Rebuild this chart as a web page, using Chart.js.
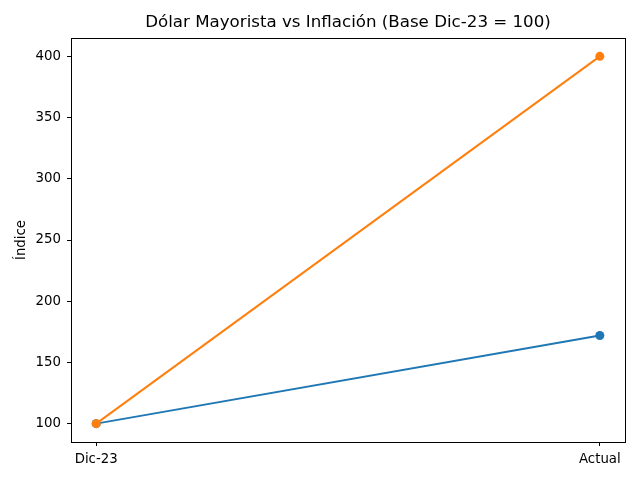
<!DOCTYPE html>
<html>
<head>
<meta charset="utf-8">
<script src="https://cdn.jsdelivr.net/npm/chart.js@4"></script>
<style>
  html, body { margin: 0; padding: 0; background: #fff; }
  #wrap { width: 640px; height: 480px; }
</style>
</head>
<body>
<div id="wrap"><canvas id="chart" width="640" height="480"></canvas></div>
<script>
// Dólar mayorista vs inflación, both indexed to Dic-23 = 100
const categories = ["Dic-23", "Actual"];
const dolarValues = [100, 172];
const inflacionValues = [100, 400];
const yTicks = [100, 150, 200, 250, 300, 350, 400];

const BLUE = "#1f77b4";
const ORANGE = "#ff7f0e";
const FONT = "'DejaVu Sans', sans-serif";

// matplotlib-style box around the plot area
const frame = {
  id: "frame",
  afterDraw(chart) {
    const { ctx, chartArea: a } = chart;
    ctx.save();
    ctx.strokeStyle = "#000";
    ctx.lineWidth = 1;
    ctx.strokeRect(Math.round(a.left) + 0.5, Math.round(a.top) + 0.5,
      Math.round(a.right - a.left), Math.round(a.bottom - a.top));
    ctx.restore();
  },
};

const toPoints = (vals) => vals.map((y, i) => ({ x: i, y }));

new Chart(document.getElementById("chart"), {
  type: "line",
  data: {
    datasets: [
      {
        label: "Dólar Mayorista",
        data: toPoints(dolarValues),
        borderColor: BLUE,
        backgroundColor: BLUE,
        borderWidth: 2,
        pointRadius: 4.5,
        pointBorderWidth: 0,
        order: 2,
      },
      {
        label: "Inflación",
        data: toPoints(inflacionValues),
        borderColor: ORANGE,
        backgroundColor: ORANGE,
        borderWidth: 2,
        pointRadius: 4.5,
        pointBorderWidth: 0,
        order: 1,
      },
    ],
  },
  options: {
    responsive: false,
    animation: false,
    layout: { padding: { left: 0, right: 15, top: 0, bottom: 0 } },
    plugins: {
      legend: { display: false },
      tooltip: { enabled: false },
      title: {
        display: true,
        fullSize: false,
        text: "Dólar Mayorista vs Inflación (Base Dic-23 = 100)",
        color: "#000",
        font: { family: FONT, size: 16.67, weight: "normal", lineHeight: 1.2 },
        padding: { top: 13, bottom: 5 },
      },
    },
    scales: {
      x: {
        type: "linear",
        min: -0.05,
        max: 1.05,
        afterBuildTicks: (s) => { s.ticks = categories.map((_, i) => ({ value: i })); },
        afterFit: (s) => { s.height = 38; },
        ticks: {
          color: "#000",
          font: { family: FONT, size: 13.33 },
          padding: 6,
          maxRotation: 0,
          callback: (v) => categories[v],
        },
        grid: { display: true, drawOnChartArea: false, drawTicks: true, tickLength: 4, color: "#000" },
        border: { display: true, color: "#000" },
      },
      y: {
        min: 85,
        max: 415,
        afterBuildTicks: (s) => { s.ticks = yTicks.map((v) => ({ value: v })); },
        afterFit: (s) => { s.width = 71; },
        title: {
          display: true,
          text: "Índice",
          color: "#000",
          font: { family: FONT, size: 13.33 },
          padding: { top: 14, bottom: 6 },
        },
        ticks: {
          color: "#000",
          font: { family: FONT, size: 13.33 },
          padding: 6,
        },
        grid: { display: true, drawOnChartArea: false, drawTicks: true, tickLength: 4, color: "#000" },
        border: { display: true, color: "#000" },
      },
    },
  },
  plugins: [frame],
});
</script>
</body>
</html>
